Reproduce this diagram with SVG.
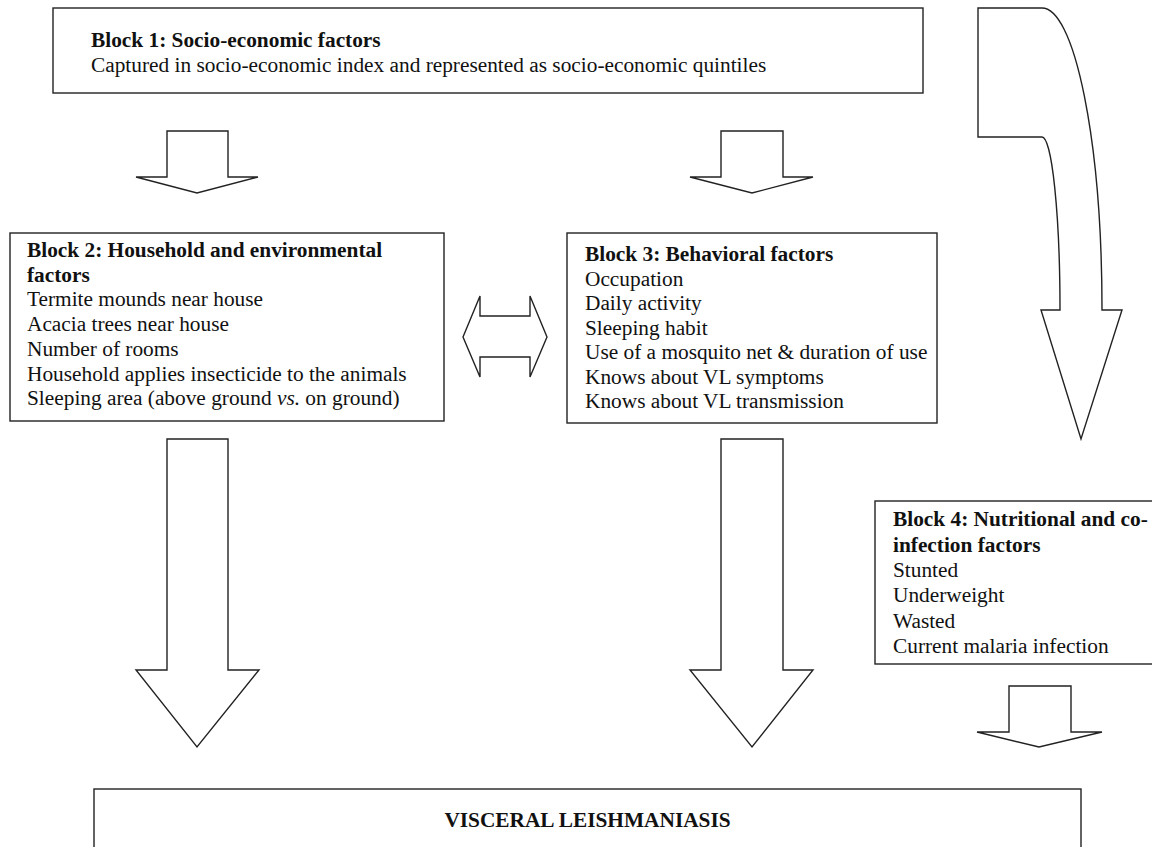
<svg xmlns="http://www.w3.org/2000/svg" width="1152" height="847" viewBox="0 0 1152 847">
<style>
.box{fill:#fff;stroke:#222;stroke-width:1.4}
.arr{fill:#fff;stroke:#222;stroke-width:1.4;stroke-linejoin:miter}
text{font-family:"Liberation Serif","Times New Roman",serif;font-size:21.33px;fill:#111}
.b{font-weight:bold}
</style>
<rect width="1152" height="847" fill="#fff"/>
<g id="connectors">
<path class="arr" d="M167,131 H228 V177 H258 L197,193 L136,177 H167 Z"/>
<path class="arr" d="M721,131 H783 V177 H813 L752,193 L690,177 H721 Z"/>
<path class="arr" d="M978,8 H1042 A60,302 0 0 1 1102,310 H1122 L1081,439 L1041,310 H1060 A18,173 0 0 0 1042,137 H978 Z"/>
<path class="arr" d="M463,337 L480,296 V316 H530 V296 L547,337 L530,377 V357 H480 V377 Z"/>
<path class="arr" d="M167,439 H228 V670 H259 L197,747 L136,670 H167 Z"/>
<path class="arr" d="M721,439 H783 V670 H813 L752,747 L690,670 H721 Z"/>
<path class="arr" d="M1009,686 H1071 V732 H1102 L1039,747 L977,732 H1009 Z"/>
</g>
<g id="block1">
<rect class="box" x="53" y="8" width="870" height="85"/>
<text x="91" y="47" class="b">Block 1: Socio-economic factors</text>
<text x="91" y="71.5">Captured in socio-economic index and represented as socio-economic quintiles</text>
</g>
<g id="block2">
<rect class="box" x="10" y="233" width="434" height="188"/>
<text x="27" y="257" class="b">Block 2: Household and environmental</text>
<text x="27" y="281.7" class="b">factors</text>
<text x="27" y="306.4">Termite mounds near house</text>
<text x="27" y="331.1">Acacia trees near house</text>
<text x="27" y="355.8">Number of rooms</text>
<text x="27" y="380.5">Household applies insecticide to the animals</text>
<text x="27" y="405.2">Sleeping area (above ground <tspan font-style="italic">vs.</tspan> on ground)</text>
</g>
<g id="block3">
<rect class="box" x="567" y="233" width="370" height="190"/>
<text x="585" y="261" class="b">Block 3: Behavioral factors</text>
<text x="585" y="285.5">Occupation</text>
<text x="585" y="310">Daily activity</text>
<text x="585" y="334.5">Sleeping habit</text>
<text x="585" y="359">Use of a mosquito net &amp; duration of use</text>
<text x="585" y="383.5">Knows about VL symptoms</text>
<text x="585" y="408">Knows about VL transmission</text>
</g>
<g id="block4">
<rect class="box" x="875" y="501" width="282" height="163"/>
<text x="893" y="526" class="b">Block 4: Nutritional and co-</text>
<text x="893" y="551.5" class="b">infection factors</text>
<text x="893" y="577">Stunted</text>
<text x="893" y="602.3">Underweight</text>
<text x="893" y="627.7">Wasted</text>
<text x="893" y="653.2">Current malaria infection</text>
</g>
<g id="vl">
<rect class="box" x="94" y="789" width="987" height="70"/>
<text x="587.5" y="827" class="b" text-anchor="middle" font-size="20.6">VISCERAL LEISHMANIASIS</text>
</g>
</svg>
